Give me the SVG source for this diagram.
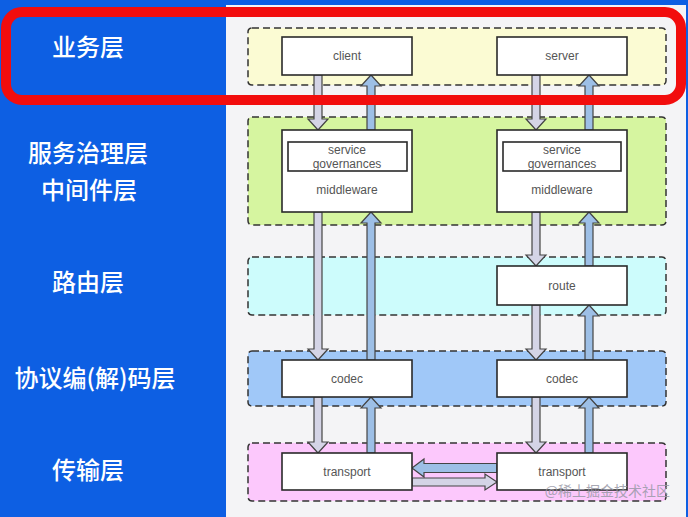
<svg xmlns="http://www.w3.org/2000/svg" width="688" height="517" viewBox="0 0 688 517">
<style>
.lbl{font-family:"Noto Sans CJK SC","Noto Sans",sans-serif;font-size:24px;fill:#ffffff;text-anchor:middle;font-weight:500}
.layer{stroke:#333;stroke-width:1.5;stroke-dasharray:7 4}
.node{fill:#ffffff;stroke:#2a2a2a;stroke-width:1.6}
.t{font-family:"Liberation Sans","Noto Sans",sans-serif;font-size:12px;fill:#555;text-anchor:middle}
.dn{fill:#d4d4e6;stroke:#444;stroke-width:1.2;stroke-linejoin:miter}
.up{fill:#9dbfe6;stroke:#444;stroke-width:1.2;stroke-linejoin:miter}
</style>
<rect x="0" y="0" width="688" height="517" fill="#0d5fe3"/>
<rect x="226" y="5" width="460" height="512" fill="#f4f4f6"/>
<g id="labels">
<text class="lbl" x="88" y="56">业务层</text>
<text class="lbl" x="88" y="162">服务治理层</text>
<text class="lbl" x="89" y="199">中间件层</text>
<text class="lbl" x="88" y="291">路由层</text>
<text class="lbl" x="95" y="387">协议编(解)码层</text>
<text class="lbl" x="88" y="479">传输层</text>
</g>
<g id="layers">
<rect id="layer-business" class="layer" x="248" y="28" width="418" height="57" rx="4" fill="#fbfbd3"/>
<rect id="layer-middleware" class="layer" x="248" y="117" width="418" height="108" rx="4" fill="#d6f5a0"/>
<rect id="layer-route" class="layer" x="248" y="257" width="418" height="58" rx="4" fill="#cdfcfc"/>
<rect id="layer-codec" class="layer" x="248" y="351" width="418" height="55" rx="4" fill="#a0c8f8"/>
<rect id="layer-transport" class="layer" x="248" y="443" width="418" height="58" rx="4" fill="#fcc8fc"/>
</g>
<g id="connectors">
<polygon class="dn" points="314,75 322,75 322,119 328,119 318,130 308,119 314,119"/>
<polygon class="dn" points="314,212 322,212 322,349 328,349 318,360 308,349 314,349"/>
<polygon class="dn" points="314,397 322,397 322,442 328,442 318,453 308,442 314,442"/>
<polygon class="up" points="367,130 375,130 375,86 381,86 371,75 361,86 367,86"/>
<polygon class="up" points="367,360 375,360 375,223 381,223 371,212 361,223 367,223"/>
<polygon class="up" points="367,453 375,453 375,408 381,408 371,397 361,408 367,408"/>
<polygon class="dn" points="532,75 540,75 540,119 546,119 536,130 526,119 532,119"/>
<polygon class="dn" points="532,212 540,212 540,255 546,255 536,266 526,255 532,255"/>
<polygon class="dn" points="532,305 540,305 540,349 546,349 536,360 526,349 532,349"/>
<polygon class="dn" points="532,397 540,397 540,442 546,442 536,453 526,442 532,442"/>
<polygon class="up" points="585,130 593,130 593,86 599,86 589,75 579,86 585,86"/>
<polygon class="up" points="585,266 593,266 593,223 599,223 589,212 579,223 585,223"/>
<polygon class="up" points="585,360 593,360 593,316 599,316 589,305 579,316 585,316"/>
<polygon class="up" points="585,453 593,453 593,408 599,408 589,397 579,408 585,408"/>
<polygon class="up" points="497,463.5 424,463.5 424,459 412,468 424,477 424,472.5 497,472.5"/>
<polygon class="dn" points="412,478 485,478 485,474 497,482 485,490 485,486 412,486"/>
</g>
<g id="client"><rect class="node" x="282" y="37" width="130" height="38"/><text class="t" x="347" y="60">client</text></g>
<g id="server"><rect class="node" x="497" y="37" width="130" height="38"/><text class="t" x="562" y="60">server</text></g>
<g id="middleware-left"><rect class="node" x="282" y="130" width="130" height="82"/>
<rect class="node" x="288" y="142" width="119" height="29"/>
<text class="t" x="347" y="154">service</text><text class="t" x="347" y="168">governances</text>
<text class="t" x="347" y="194">middleware</text></g>
<g id="middleware-right"><rect class="node" x="497" y="130" width="130" height="82"/>
<rect class="node" x="503" y="142" width="118" height="29"/>
<text class="t" x="562" y="154">service</text><text class="t" x="562" y="168">governances</text>
<text class="t" x="562" y="194">middleware</text></g>
<g id="route"><rect class="node" x="497" y="266" width="130" height="39"/><text class="t" x="562" y="290">route</text></g>
<g id="codec-left"><rect class="node" x="282" y="360" width="130" height="37"/><text class="t" x="347" y="383">codec</text></g>
<g id="codec-right"><rect class="node" x="497" y="360" width="130" height="37"/><text class="t" x="562" y="383">codec</text></g>
<g id="transport-left"><rect class="node" x="282" y="453" width="130" height="37"/><text class="t" x="347" y="476">transport</text></g>
<g id="transport-right"><rect class="node" x="497" y="453" width="130" height="37"/><text class="t" x="562" y="476">transport</text></g>
<text x="670" y="496" font-family="'Noto Sans CJK SC',sans-serif" font-size="14" fill="#9a9aa8" text-anchor="end" opacity="0.85">@稀土掘金技术社区</text>
<rect id="highlight" x="6" y="12" width="675" height="88" rx="16" fill="none" stroke="#f20d0d" stroke-width="10"/>
</svg>
